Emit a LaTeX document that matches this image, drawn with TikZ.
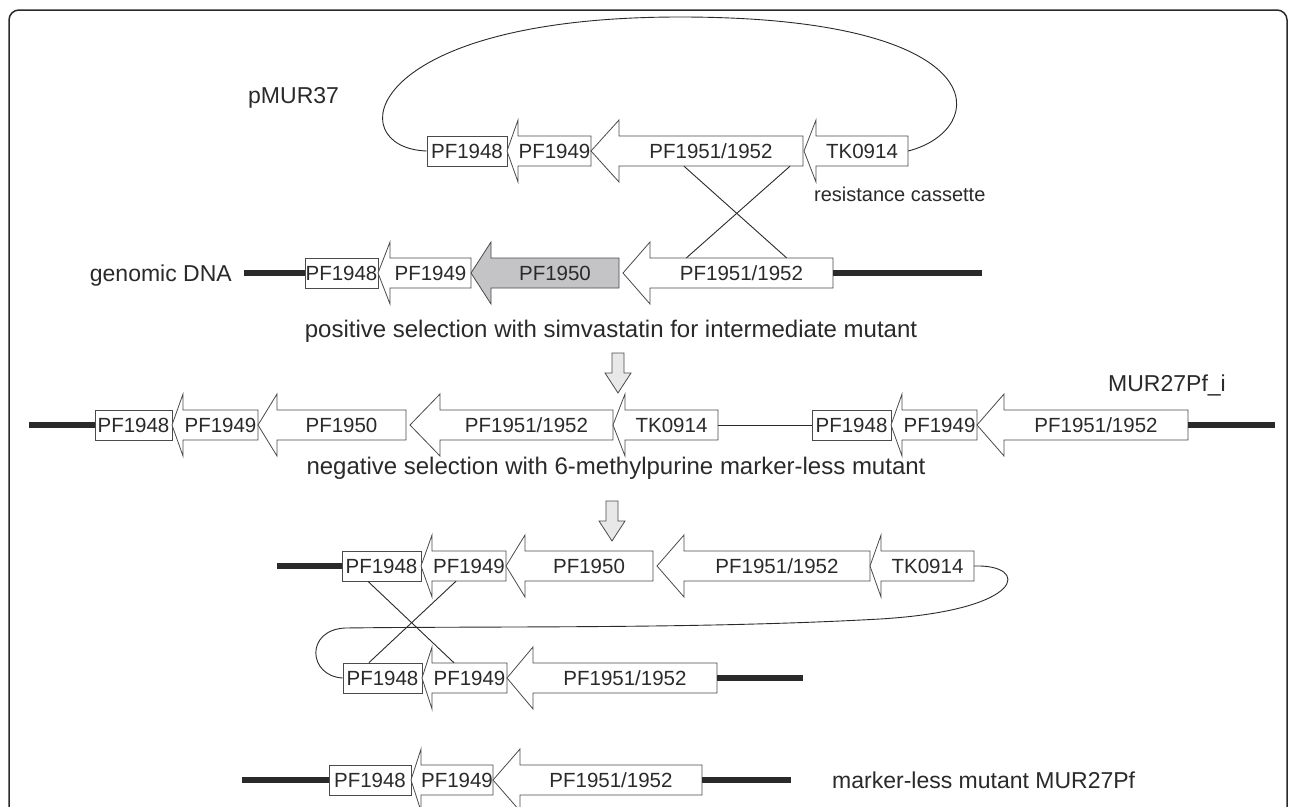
\documentclass[tikz,border=0pt]{standalone}
\usepackage{fontspec}
\setmainfont{Liberation Sans}
\usetikzlibrary{calc}
\definecolor{ink}{HTML}{2A2A2A}
\definecolor{boxline}{HTML}{4A4A4A}
\definecolor{genegray}{HTML}{C4C4C6}
\definecolor{arrowgray}{HTML}{E8E8E8}
\tikzset{
  geneshape/.style={draw=boxline, line width=0.8pt, line join=miter},
  genebody/.style={inner sep=0pt, minimum height=30pt, font=\fontsize{20.5}{21}\selectfont, text=ink},
  genebox/.style={draw=boxline, line width=0.8pt, fill=white, inner sep=0pt, minimum height=30pt, font=\fontsize{20.5}{21}\selectfont, text=ink},
  dna/.style={line width=6pt, draw=ink},
  thin/.style={line width=0.9pt, draw=ink},
  bigtext/.style={font=\fontsize{23}{24}\selectfont, text=ink, inner sep=0pt},
  sentence/.style={font=\fontsize{24}{25}\selectfont, text=ink, inner sep=0pt},
  smalltext/.style={font=\fontsize{20}{21}\selectfont, text=ink, inner sep=0pt},
  downarrow/.style={draw=boxline, line width=0.8pt, fill=arrowgray},
}
% gene arrow pointing left: #1 name, #2 tip x, #3 head back x, #4 right x, #5 centre y, #6 label, #7 fill
\newcommand\genearr[7]{%
  \draw[geneshape, fill=#7] (#2,#5) -- (#3,#5-31) -- (#3,#5-15) -- (#4,#5-15) -- (#4,#5+15) -- (#3,#5+15) -- (#3,#5+31) -- cycle;
  \node[genebody, minimum width={(#4-#3)*1pt}] (#1) at ({(#3+#4)/2},#5) {#6};}
% gene box: #1 name, #2 left x, #3 right x, #4 centre y, #5 label
\newcommand\genebx[5]{%
  \node[genebox, minimum width={(#3-#2)*1pt}] (#1) at ({(#2+#3)/2},#4) {#5};}
% grey down arrow: #1 centre x, #2 top y
\newcommand\downarr[2]{%
  \draw[downarrow] (#1-6,#2) -- (#1+6,#2) -- (#1+6,#2+20) -- (#1+13,#2+20) -- (#1,#2+40) -- (#1-13,#2+20) -- (#1-6,#2+20) -- cycle;}
\begin{document}
\begin{tikzpicture}[x=1pt, y=-1pt]
\clip (0,0) rectangle (1290,806);
\useasboundingbox (0,0) rectangle (1290,806);
\fill[white] (0,0) rectangle (1290,806);
% frame
\draw[line width=1.5pt, draw=ink, rounded corners=10pt] (9,840) -- (9,10) -- (1287,10) -- (1287,840);

% ---------- plasmid pMUR37 ----------
\node[bigtext, anchor=west] (plabel) at (248,98) {pMUR37};
\genebx{t48}{427}{507}{151}{PF1948}
\genearr{t49}{507}{518}{591}{151}{PF1949}{white}
\genearr{t51}{591}{619}{803}{151}{PF1951/1952}{white}
\genearr{t14}{804}{816}{908}{151}{TK0914}{white}
\draw[thin] (t48.west) .. controls (340,148) and (360,17) .. (680,17)
            .. controls (1000,17) and (990,130) .. (t14.east);
\node[smalltext, anchor=west] (rc) at (814,194) {resistance cassette};

% ---------- genomic DNA ----------
\node[bigtext, anchor=east] (glabel) at (232,276) {genomic DNA};
\coordinate (gL) at (244,273);
\coordinate (gR) at (982,273);
\genebx{g48}{305}{378}{273}{PF1948}
\genearr{g49}{378}{390}{471}{273}{PF1949}{white}
\genearr{g50}{471}{491}{619}{273}{PF1950}{genegray}
\genearr{g51}{623}{650}{833}{273}{PF1951/1952}{white}
\draw[dna] (gL) -- (g48.west);
\draw[dna] (g51.east) -- (gR);
% crossover
\draw[thin] ([xshift=-27pt]t51.south) -- ([xshift=45pt]g51.north);
\draw[thin] ([xshift=79pt]t51.south) -- ([xshift=-55pt]g51.north);

\node[sentence] (pos) at (611,331) {positive selection with simvastatin for intermediate mutant};
\downarr{618}{353}

% ---------- intermediate mutant ----------
\coordinate (mL) at (29,425);
\coordinate (mR) at (1275,425);
\genebx{m48}{95}{172}{425}{PF1948}
\genearr{m49}{172}{183}{258}{425}{PF1949}{white}
\genearr{m50}{258}{277}{406}{425}{PF1950}{white}
\genearr{m51}{410}{440}{613}{425}{PF1951/1952}{white}
\genearr{m14}{613}{625}{718}{425}{TK0914}{white}
\genebx{n48}{812}{891}{425}{PF1948}
\genearr{n49}{891}{902}{977}{425}{PF1949}{white}
\genearr{n51}{977}{1004}{1188}{425}{PF1951/1952}{white}
\draw[dna] (mL) -- (m48.west);
\draw[thin] (m14.east) -- (n48.west);
\draw[dna] (n51.east) -- (mR);
\node[bigtext, anchor=west] (mlabel) at (1108,385) {MUR27Pf\_i};

\node[sentence] (neg) at (616,468) {negative selection with 6-methylpurine marker-less mutant};
\downarr{612}{501}

% ---------- second crossover ----------
\coordinate (uL) at (277,566);
\genebx{u48}{342}{421}{566}{PF1948}
\genearr{u49}{421}{432}{506}{566}{PF1949}{white}
\genearr{u50}{506}{525}{653}{566}{PF1950}{white}
\genearr{u51}{657}{684}{870}{566}{PF1951/1952}{white}
\genearr{u14}{870}{881}{974}{566}{TK0914}{white}
\draw[dna] (uL) -- (u48.west);

\coordinate (lR) at (803,678);
\genebx{l48}{343}{422}{678}{PF1948}
\genearr{l49}{422}{432}{507}{678}{PF1949}{white}
\genearr{l51}{507}{533}{717}{678}{PF1951/1952}{white}
\draw[dna] (l51.east) -- (lR);

\draw[thin] (u14.east) .. controls (1030,564) and (1028,610) .. (880,619)
            .. controls (700,629) and (500,626) .. (345,628)
            .. controls (305,630) and (308,676) .. (l48.west);
\draw[thin] ([xshift=-13.5pt]u48.south) -- ([xshift=-15.5pt]l49.north);
\draw[thin] ([xshift=-13pt]u49.south) -- ([xshift=-13.5pt]l48.north);

% ---------- marker-less mutant ----------
\coordinate (fL) at (242,780);
\coordinate (fR) at (791,780);
\genebx{f48}{329}{411}{780}{PF1948}
\genearr{f49}{411}{421}{493}{780}{PF1949}{white}
\genearr{f51}{493}{520}{702}{780}{PF1951/1952}{white}
\draw[dna] (fL) -- (f48.west);
\draw[dna] (f51.east) -- (fR);
\node[bigtext, anchor=west] (flabel) at (832,780) {marker-less mutant MUR27Pf};
\end{tikzpicture}
\end{document}
